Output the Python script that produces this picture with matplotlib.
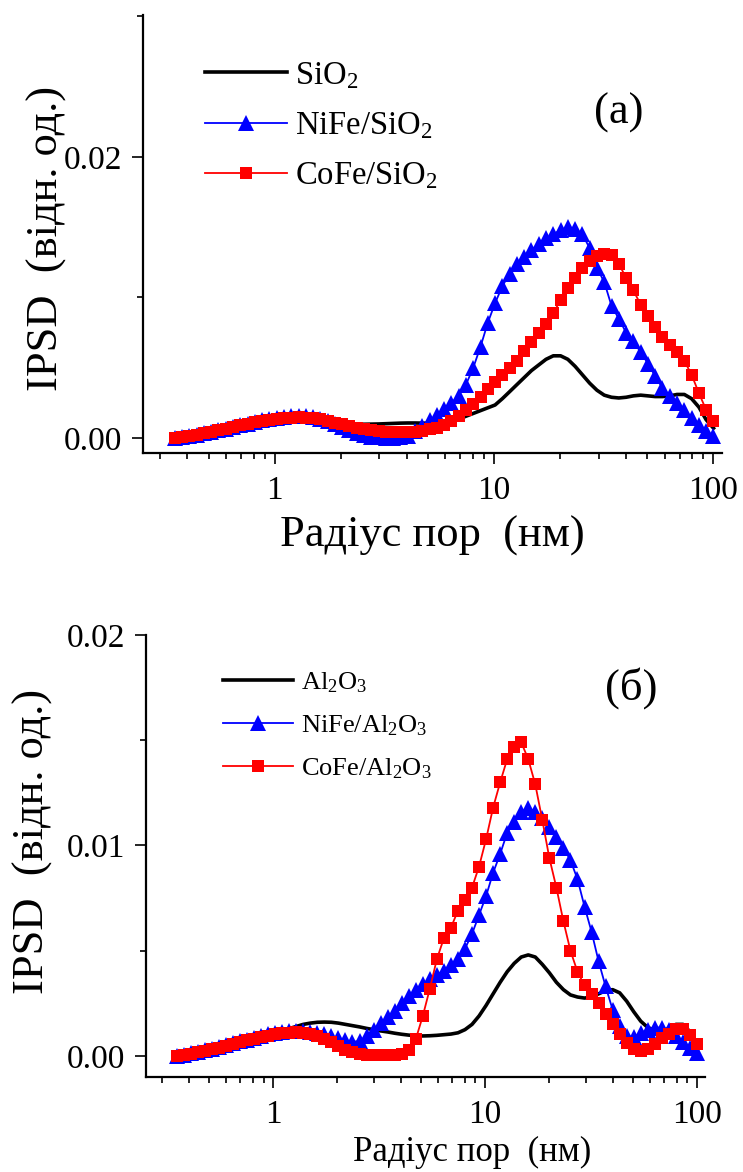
import numpy as np
import matplotlib
matplotlib.use("Agg")
import matplotlib.pyplot as plt
from matplotlib.ticker import FixedLocator, LogLocator, NullFormatter

plt.rcParams['font.family'] = ['Liberation Serif', 'DejaVu Serif']
plt.rcParams['mathtext.fontset'] = 'custom'
plt.rcParams['mathtext.rm'] = 'Liberation Serif'
plt.rcParams['mathtext.it'] = 'Liberation Serif:italic'
plt.rcParams['mathtext.bf'] = 'Liberation Serif:bold'

# ---------------- data ----------------
# pore radius (nm), common sampling grid of all curves
radius = [0.350, 0.378, 0.408, 0.440, 0.475, 0.513, 0.553, 0.598, 0.645, 0.696,
          0.752, 0.811, 0.876, 0.945, 1.020, 1.101, 1.189, 1.283, 1.385, 1.495,
          1.614, 1.742, 1.880, 2.030, 2.191, 2.365, 2.553, 2.755, 2.974, 3.210,
          3.465, 3.741, 4.038, 4.358, 4.705, 5.078, 5.482, 5.916, 6.387, 6.893,
          7.440, 8.031, 8.669, 9.357, 10.10, 10.90, 11.77, 12.70, 13.71, 14.80,
          15.97, 17.24, 18.61, 20.09, 21.68, 23.40, 25.26, 27.27, 29.43, 31.77,
          34.29, 37.01, 39.95, 43.12, 46.56, 50.25, 54.24, 58.55, 63.19, 68.21,
          73.62, 79.47, 85.78, 92.60, 100.0]

# IPSD values in units of 1e-3
# panel (a)
sio2 = [0.0, 0.06, 0.13, 0.21, 0.29, 0.38, 0.48, 0.58, 0.68, 0.79,
        0.89, 0.99, 1.08, 1.16, 1.23, 1.29, 1.33, 1.35, 1.35, 1.33,
        1.29, 1.23, 1.16, 1.09, 1.03, 0.99, 0.98, 0.99, 1.00, 1.02,
        1.04, 1.06, 1.07, 1.07, 1.06, 1.05, 1.06, 1.10, 1.20, 1.35,
        1.55, 1.75, 1.95, 2.15, 2.35, 2.80, 3.30, 3.80, 4.30, 4.80,
        5.20, 5.60, 5.85, 5.85, 5.60, 5.10, 4.50, 3.90, 3.40, 3.05,
        2.90, 2.85, 2.90, 3.00, 3.05, 3.00, 2.95, 2.95, 3.00, 3.10,
        3.10, 2.80, 2.20, 1.30, 0.70]
nife_sio2 = [0.0, 0.08, 0.16, 0.25, 0.35, 0.45, 0.56, 0.67, 0.79, 0.91,
             1.03, 1.15, 1.26, 1.36, 1.45, 1.52, 1.57, 1.59, 1.57, 1.50,
             1.38, 1.22, 1.02, 0.80, 0.58, 0.38, 0.22, 0.10, 0.04, 0.02,
             0.03, 0.07, 0.16, 0.50, 0.85, 1.25, 1.65, 2.05, 2.50, 3.00,
             3.80, 5.00, 6.50, 8.20, 9.60, 10.8, 11.7, 12.4, 12.9, 13.4,
             13.8, 14.2, 14.5, 14.8, 15.0, 14.9, 14.5, 13.5, 12.1, 11.1,
             9.40, 8.50, 7.50, 6.90, 6.10, 5.30, 4.40, 3.55, 3.00, 2.50,
             2.00, 1.45, 0.95, 0.50, 0.15]
cofe_sio2 = [0.0, 0.07, 0.15, 0.24, 0.34, 0.44, 0.55, 0.66, 0.78, 0.90,
             1.01, 1.12, 1.22, 1.31, 1.38, 1.43, 1.46, 1.47, 1.45, 1.40,
             1.32, 1.22, 1.10, 0.97, 0.84, 0.72, 0.62, 0.54, 0.47, 0.43,
             0.40, 0.40, 0.42, 0.46, 0.52, 0.62, 0.72, 0.95, 1.20, 1.60,
             2.00, 2.45, 2.95, 3.50, 4.00, 4.45, 5.00, 5.50, 6.20, 6.80,
             7.45, 8.10, 8.90, 9.80, 10.7, 11.4, 12.1, 12.6, 12.95, 13.1,
             13.0, 12.4, 11.4, 10.5, 9.50, 8.70, 7.90, 7.20, 6.60, 6.10,
             5.50, 4.50, 3.20, 2.00, 1.20]

# panel (б)
al2o3 = [0.0, 0.07, 0.15, 0.23, 0.31, 0.40, 0.49, 0.58, 0.67, 0.76,
         0.85, 0.93, 1.00, 1.06, 1.12, 1.21, 1.30, 1.40, 1.50, 1.56,
         1.60, 1.61, 1.60, 1.56, 1.50, 1.44, 1.38, 1.31, 1.25, 1.19,
         1.14, 1.08, 1.03, 0.99, 0.96, 0.95, 0.96, 0.98, 1.01, 1.04,
         1.10, 1.25, 1.50, 1.90, 2.40, 2.95, 3.50, 4.00, 4.40, 4.70,
         4.80, 4.70, 4.35, 3.95, 3.50, 3.15, 2.90, 2.80, 2.75, 2.80,
         2.95, 3.10, 3.15, 3.00, 2.60, 2.10, 1.65, 1.35, 1.22, 1.20,
         1.30, 1.50, 1.50, 1.15, 0.30]
nife_al2o3 = [0.0, 0.06, 0.12, 0.19, 0.26, 0.34, 0.42, 0.51, 0.60, 0.69,
              0.78, 0.87, 0.95, 1.03, 1.09, 1.14, 1.17, 1.19, 1.18, 1.15,
              1.09, 1.02, 0.93, 0.83, 0.74, 0.68, 0.70, 0.95, 1.25, 1.55,
              1.85, 2.15, 2.50, 2.85, 3.15, 3.40, 3.65, 3.85, 4.05, 4.30,
              4.60, 5.10, 5.80, 6.70, 7.60, 8.70, 9.60, 10.6, 11.1, 11.6,
              11.8, 11.6, 11.3, 10.9, 10.4, 9.90, 9.30, 8.40, 7.10, 5.90,
              4.50, 3.30, 2.20, 1.40, 0.95, 0.90, 1.10, 1.25, 1.35, 1.35,
              1.25, 0.95, 0.65, 0.40, 0.15]
cofe_al2o3 = [0.0, 0.05, 0.11, 0.17, 0.24, 0.31, 0.39, 0.47, 0.56, 0.65,
              0.74, 0.82, 0.90, 0.97, 1.03, 1.08, 1.11, 1.12, 1.10, 1.04,
              0.94, 0.80, 0.64, 0.46, 0.30, 0.17, 0.09, 0.05, 0.04, 0.04,
              0.04, 0.05, 0.10, 0.30, 0.80, 1.90, 3.20, 4.60, 5.60, 6.10,
              6.90, 7.40, 8.00, 9.00, 10.3, 11.8, 13.0, 14.1, 14.7, 14.9,
              14.1, 12.9, 11.2, 9.40, 8.00, 6.40, 5.00, 4.00, 3.35, 2.95,
              2.50, 2.00, 1.50, 1.05, 0.60, 0.35, 0.25, 0.35, 0.55, 0.85,
              1.05, 1.28, 1.30, 1.00, 0.57]

UNIT = 1e-3
labels_a = ['SiO$_2$', 'NiFe/SiO$_2$', 'CoFe/SiO$_2$']
labels_b = ['Al$_2$O$_3$', 'NiFe/Al$_2$O$_3$', 'CoFe/Al$_2$O$_3$']
xticks = [1, 10, 100]
xticklabels = ['1', '10', '100']
yticks_a = [0.0, 0.02]
yticklabels_a = ['0.00', '0.02']
yminor_a = [0.01, 0.03]
yticks_b = [0.0, 0.01, 0.02]
yticklabels_b = ['0.00', '0.01', '0.02']
yminor_b = [0.005, 0.015]
xlabel = 'Радіус пор  (нм)'
ylabel = 'IPSD  (відн. од.)'

# ---------------- figure ----------------
W, H = 743, 1172
fig = plt.figure(figsize=(W / 100, H / 100), dpi=100)
ax1 = fig.add_axes([142.7 / W, 1 - 452.5 / H, (721.7 - 142.7) / W, (452.5 - 15) / H])
ax2 = fig.add_axes([145.7 / W, 1 - 1077 / H, (705 - 145.7) / W, (1077 - 635) / H])


def style(ax, yt, ytl, ymin, ylim):
    ax.set_xscale('log')
    ax.set_xlim(0.25, 109)
    ax.set_ylim(*ylim)
    for s in ('top', 'right'):
        ax.spines[s].set_visible(False)
    for s in ('left', 'bottom'):
        ax.spines[s].set_linewidth(1.6)
    ax.xaxis.set_major_locator(FixedLocator(xticks))
    ax.set_xticklabels(xticklabels)
    ax.xaxis.set_minor_locator(LogLocator(base=10, subs=np.arange(2, 10)))
    ax.xaxis.set_minor_formatter(NullFormatter())
    ax.set_yticks(yt)
    ax.set_yticklabels(ytl)
    ax.yaxis.set_minor_locator(FixedLocator(ymin))
    ax.tick_params(which='major', direction='out', length=8, width=1.2)
    ax.tick_params(which='minor', direction='out', length=4, width=1.2)
    ax.tick_params(axis='x', which='major', labelsize=24, pad=8.5)
    ax.tick_params(axis='y', which='major', labelsize=24, pad=7)


def curves(ax, ys, labels):
    r = np.asarray(radius)
    ax.plot(r, np.asarray(ys[0]) * UNIT, color='black', lw=2.6, label=labels[0], zorder=2)
    ax.plot(r, np.asarray(ys[1]) * UNIT, color='#0000ff', lw=1.3, marker='^', ms=12,
            mew=0, label=labels[1], zorder=3)
    ax.plot(r, np.asarray(ys[2]) * UNIT, color='#ff0000', lw=1.3, marker='s', ms=9.3,
            mew=0, label=labels[2], zorder=4)


# panel (a)
curves(ax1, [sio2, nife_sio2, cofe_sio2], labels_a)
style(ax1, yticks_a, yticklabels_a, yminor_a, (-0.00103, 0.0301))
ax1.legend(loc='upper left', bbox_to_anchor=(205 / W, 1 - 60 / H), bbox_transform=fig.transFigure,
           frameon=False, fontsize=23.5, handlelength=2.5, handletextpad=0.25,
           labelspacing=0.6, borderpad=0, borderaxespad=0, markerscale=0.92)
ax1.set_xlabel(xlabel, fontsize=32)
ax1.xaxis.set_label_coords(0.5005, -0.145)
ax1.set_ylabel(ylabel, fontsize=32)
ax1.yaxis.set_label_coords(-0.1307, 0.49)
fig.text(619 / W, 1 - 113 / H, '(а)', fontsize=32, ha='center', va='center')

# panel (б)
curves(ax2, [al2o3, nife_al2o3, cofe_al2o3], labels_b)
style(ax2, yticks_b, yticklabels_b, yminor_b, (-0.001, 0.02))
ax2.legend(loc='upper left', bbox_to_anchor=(223 / W, 1 - 670 / H), bbox_transform=fig.transFigure,
           frameon=False, fontsize=19, handlelength=2.65, handletextpad=0.3,
           labelspacing=0.7, borderpad=0, borderaxespad=0, markerscale=0.92)
ax2.set_xlabel(xlabel, fontsize=25)
ax2.xaxis.set_label_coords(0.583, -0.1335)
ax2.set_ylabel(ylabel, fontsize=32)
ax2.yaxis.set_label_coords(-0.1657, 0.532)
fig.text(631 / W, 1 - 688.5 / H, '(б)', fontsize=32, ha='center', va='center')

fig.savefig('out.png', dpi=100)
